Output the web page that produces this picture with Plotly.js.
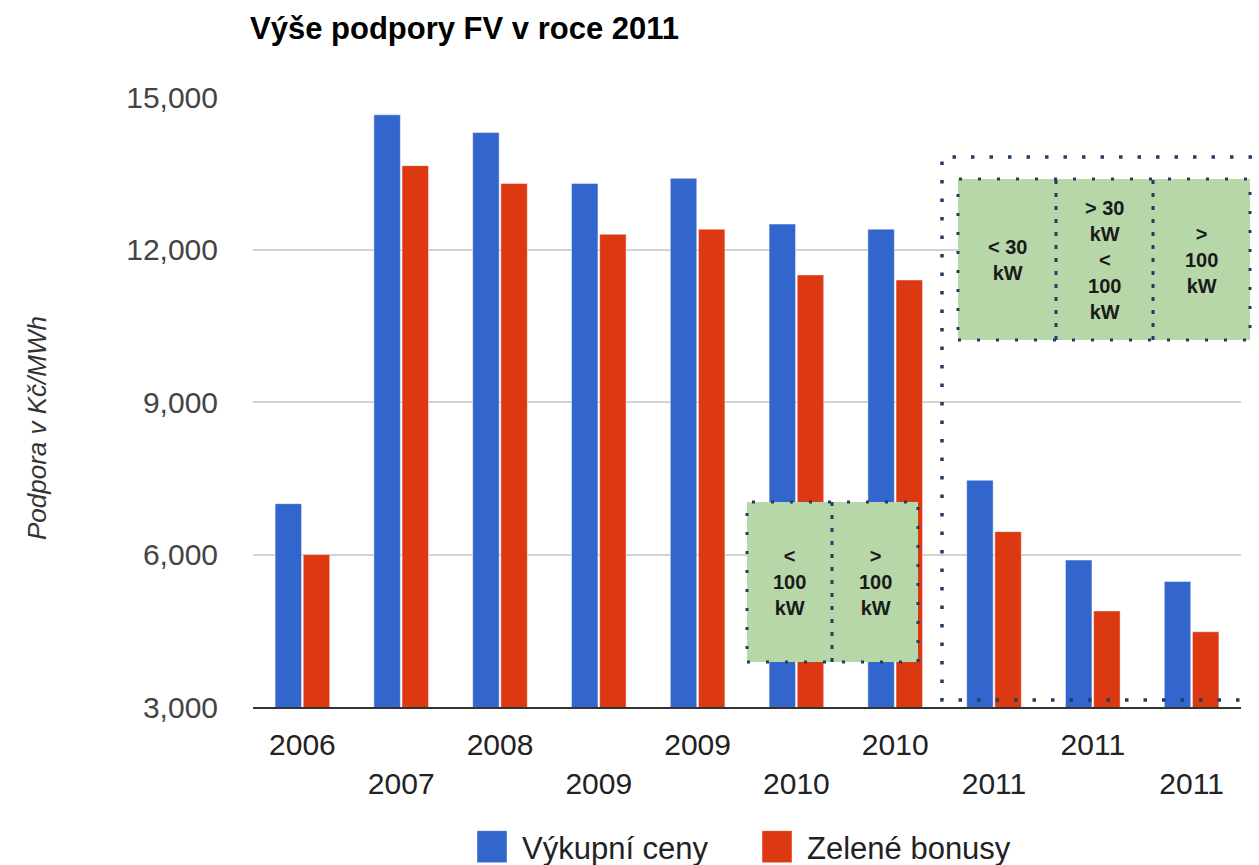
<!DOCTYPE html>
<html>
<head>
<meta charset="utf-8">
<script src="https://cdn.plot.ly/plotly-3.0.1.min.js"></script>
<style>
  html, body { margin: 0; padding: 0; background: #fff; }
  #chart { width: 1259px; height: 865px; }
</style>
</head>
<body>
<div id="chart"></div>
<script>
// ---- data ----
const categories = ['2006', '2007', '2008', '2009', '2009', '2010', '2010', '2011', '2011', '2011'];
const vykupniCeny = [7000, 14650, 14300, 13300, 13400, 12500, 12400, 7460, 5890, 5470];
const zeleneBonusy = [6000, 13650, 13300, 12300, 12400, 11500, 11400, 6450, 4890, 4480];
const seriesNames = ['Výkupní ceny', 'Zelené bonusy'];
const yTicks = [3000, 6000, 9000, 12000, 15000];
const yTitle = 'Podpora v Kč/MWh';
const boxTextsUpper = ['&lt; 30<br>kW', '&gt; 30<br>kW<br>&lt;<br>100<br>kW', '&gt;<br>100<br>kW'];
const boxTextsLower = ['&lt;<br>100<br>kW', '&gt;<br>100<br>kW'];

// ---- layout helpers (pixel -> paper) ----
const W = 1259, H = 865;
const L = 253, R = 1241, T = 97, B = 707;
const px = x => (x - L) / (R - L);
const py = y => (B - y) / (B - T);

const positions = categories.map((c, i) => i);
const tickText = categories.map((c, i) => (i % 2 === 0 ? c : '<br>' + c));

const traces = [
  {
    type: 'bar', name: seriesNames[0], x: positions, y: vykupniCeny,
    marker: { color: '#3366cc', line: { color: 'rgba(255,255,255,0.45)', width: 1 } }
  },
  {
    type: 'bar', name: seriesNames[1], x: positions, y: zeleneBonusy,
    marker: { color: '#dc3912', line: { color: 'rgba(255,255,255,0.45)', width: 1 } }
  }
];

const dotColor = '#1d3f63';
const FONT = 'Liberation Sans, Arial, sans-serif';
const shapes = [];
const annotations = [];

// big dotted frame (open on the right)
shapes.push({
  type: 'path', xref: 'paper', yref: 'paper', layer: 'above',
  path: `M${px(1252)},${py(157)} L${px(942)},${py(157)} L${px(942)},${py(700)} L${px(1252)},${py(700)}`,
  line: { color: dotColor, width: 3.5, dash: '3.5px,15px' }
});

function greenBox(x0, x1, y0, y1, dividers, texts) {
  shapes.push({
    type: 'rect', xref: 'paper', yref: 'paper', layer: 'above',
    x0: px(x0), x1: px(x1), y0: py(y1), y1: py(y0),
    fillcolor: '#b7d7a8',
    line: { color: dotColor, width: 3, dash: '3px,16px' }
  });
  dividers.forEach(d => {
    shapes.push({
      type: 'line', xref: 'paper', yref: 'paper', layer: 'above',
      x0: px(d), x1: px(d), y0: py(y1), y1: py(y0),
      line: { color: dotColor, width: 3, dash: '4px,9px' }
    });
  });
  const edges = [x0].concat(dividers, [x1]);
  texts.forEach((t, i) => {
    annotations.push({
      xref: 'paper', yref: 'paper',
      x: px((edges[i] + edges[i + 1]) / 2), y: py((y0 + y1) / 2),
      xanchor: 'center', yanchor: 'middle', showarrow: false,
      text: t, align: 'center',
      font: { family: FONT, size: 20, color: '#1a1a1a', weight: 'bold' }
    });
  });
}
greenBox(958, 1250, 179, 340, [1056, 1153], boxTextsUpper);
greenBox(747, 918, 502, 662, [832], boxTextsLower);

// y-axis title (placed as in the reference)
annotations.push({
  xref: 'paper', yref: 'paper', x: px(37), y: py(428),
  xanchor: 'center', yanchor: 'middle', showarrow: false, textangle: -90,
  text: yTitle,
  font: { family: FONT, size: 26, color: '#333', style: 'italic' }
});

const layout = {
  width: W, height: H,
  margin: { l: L, r: W - R, t: T, b: H - B, autoexpand: false },
  paper_bgcolor: '#ffffff', plot_bgcolor: '#ffffff',
  font: { family: FONT, color: '#222' },
  title: {
    text: '<b>Výše podpory FV v roce 2011</b>',
    xref: 'container', yref: 'container', x: 250 / W, xanchor: 'left',
    y: 1 - 28 / H, yanchor: 'middle',
    font: { family: FONT, size: 31, color: '#000' }
  },
  barmode: 'group', bargap: 0.43, bargroupgap: 0.06,
  xaxis: {
    range: [-0.5, 9.5], tickmode: 'array', tickvals: positions, ticktext: tickText,
    showgrid: false, zeroline: false, showline: true, linecolor: '#333', linewidth: 2,
    ticks: '', ticklabelstandoff: 10, automargin: false,
    tickfont: { family: FONT, size: 30, color: '#222' },
    fixedrange: true
  },
  yaxis: {
    range: [3000, 15000], tickmode: 'array', tickvals: yTicks, tickformat: ',d',
    showgrid: true, gridcolor: '#d2d2d2', gridwidth: 2, zeroline: false, showline: false,
    ticks: '', ticklabelstandoff: 34, automargin: false,
    tickfont: { family: FONT, size: 30, color: '#444' },
    fixedrange: true
  },
  showlegend: true,
  legend: {
    orientation: 'h', x: 0.5, xanchor: 'center', xref: 'paper',
    y: py(847), yanchor: 'middle', yref: 'paper',
    font: { family: FONT, size: 31, color: '#222' },
    itemwidth: 50, entrywidth: 220, traceorder: 'normal'
  },
  shapes: shapes,
  annotations: annotations
};

Plotly.newPlot('chart', traces, layout, { displayModeBar: false, staticPlot: true }).then(gd => {
  // enlarge legend swatches to match the reference
  document.querySelectorAll('#chart .legend .legendpoints path').forEach(p => {
    p.setAttribute('d', 'M15,16H-15V-16H15Z');
  });
});
</script>
</body>
</html>
